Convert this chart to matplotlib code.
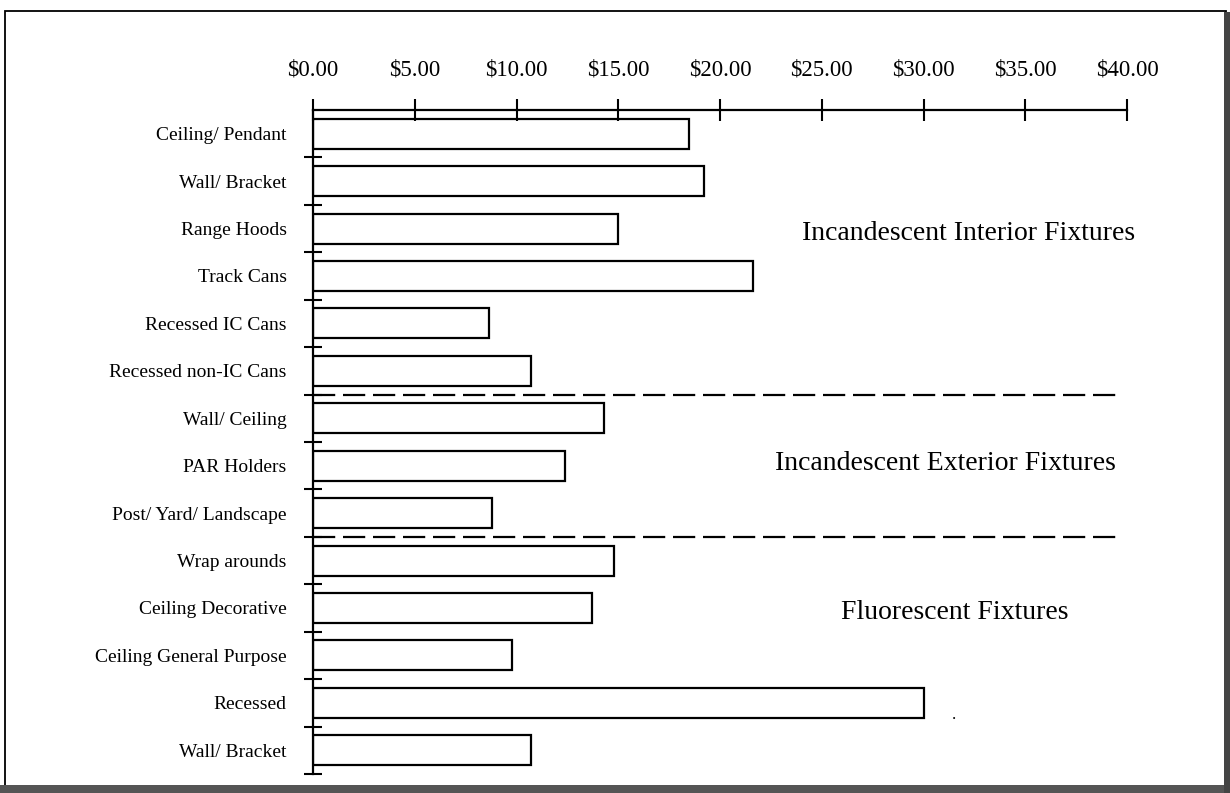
import matplotlib.pyplot as plt
from matplotlib.patches import Rectangle
import numpy as np

# données (coût par luminaire, en $)
categories = ["Ceiling/ Pendant", "Wall/ Bracket", "Range Hoods", "Track Cans",
              "Recessed IC Cans", "Recessed non-IC Cans",
              "Wall/ Ceiling", "PAR Holders", "Post/ Yard/ Landscape",
              "Wrap arounds", "Ceiling Decorative", "Ceiling General Purpose",
              "Recessed", "Wall/ Bracket"]
costs = [18.5, 19.2, 15.0, 21.6, 8.65, 10.7,
         14.3, 12.4, 8.8,
         14.8, 13.7, 9.8, 30.0, 10.7]
x_ticks = [0, 5, 10, 15, 20, 25, 30, 35, 40]
groups = ["Incandescent Interior Fixtures", "Incandescent Exterior Fixtures", "Fluorescent Fixtures"]
group_pos = [(32.2, 2.1), (31.1, 6.95), (31.55, 10.1)]
separators = [5.5, 8.5]

plt.rcParams['font.family'] = ['Liberation Serif', 'DejaVu Serif']

fig = plt.figure(figsize=(12.3, 7.93), dpi=100)
ax = fig.add_axes([313 / 1230, 1 - 774 / 793, (1127 - 313) / 1230, (774 - 110) / 793])

y = np.arange(len(categories))
ax.barh(y, costs, height=0.63, color='white', edgecolor='black', linewidth=1.6)

ax.set_xlim(0, 40)
ax.set_ylim(len(categories) - 0.5, -0.5)

# axe x en haut
ax.xaxis.tick_top()
ax.set_xticks(x_ticks)
ax.set_xticklabels(["${:.2f}".format(v) for v in x_ticks], fontsize=16.5)
ax.tick_params(axis='x', direction='inout', length=16, width=1.5, pad=13)

# axe y : libellés au centre, petites marques entre les catégories
ax.set_yticks(y)
ax.set_yticklabels(categories, fontsize=14)
ax.set_yticks(np.arange(len(categories)) + 0.5, minor=True)
ax.tick_params(axis='y', which='major', length=0, pad=19)
ax.tick_params(axis='y', which='minor', direction='inout', length=13, width=1.5)

for s in ['right', 'bottom']:
    ax.spines[s].set_visible(False)
ax.spines['top'].set_linewidth(1.6)
ax.spines['left'].set_linewidth(1.6)

# séparateurs pointillés entre les groupes
for sep in separators:
    ax.plot([0, 39.8], [sep, sep], linestyle=(0, (10, 3.5)), color='black', linewidth=1.6, clip_on=False)

for g, (gx, gy) in zip(groups, group_pos):
    ax.text(gx, gy, g, fontsize=20, ha='center', va='center')

ax.text(31.5, 12.25, ".", fontsize=12, ha='center', va='center')

# cadre de la page
fig.patches.append(Rectangle((5 / 1230, 1 - 786 / 793), 1221 / 1230, 775 / 793,
                             transform=fig.transFigure, fill=False, edgecolor='black', linewidth=1.3))
fig.patches.append(Rectangle((0, 0), 1, 8 / 793, transform=fig.transFigure,
                             facecolor='#555555', edgecolor='none'))
fig.patches.append(Rectangle((1224 / 1230, 0), 6 / 1230, 1 - 12 / 793, transform=fig.transFigure,
                             facecolor='#444444', edgecolor='none'))

plt.savefig('out.png', dpi=100)
